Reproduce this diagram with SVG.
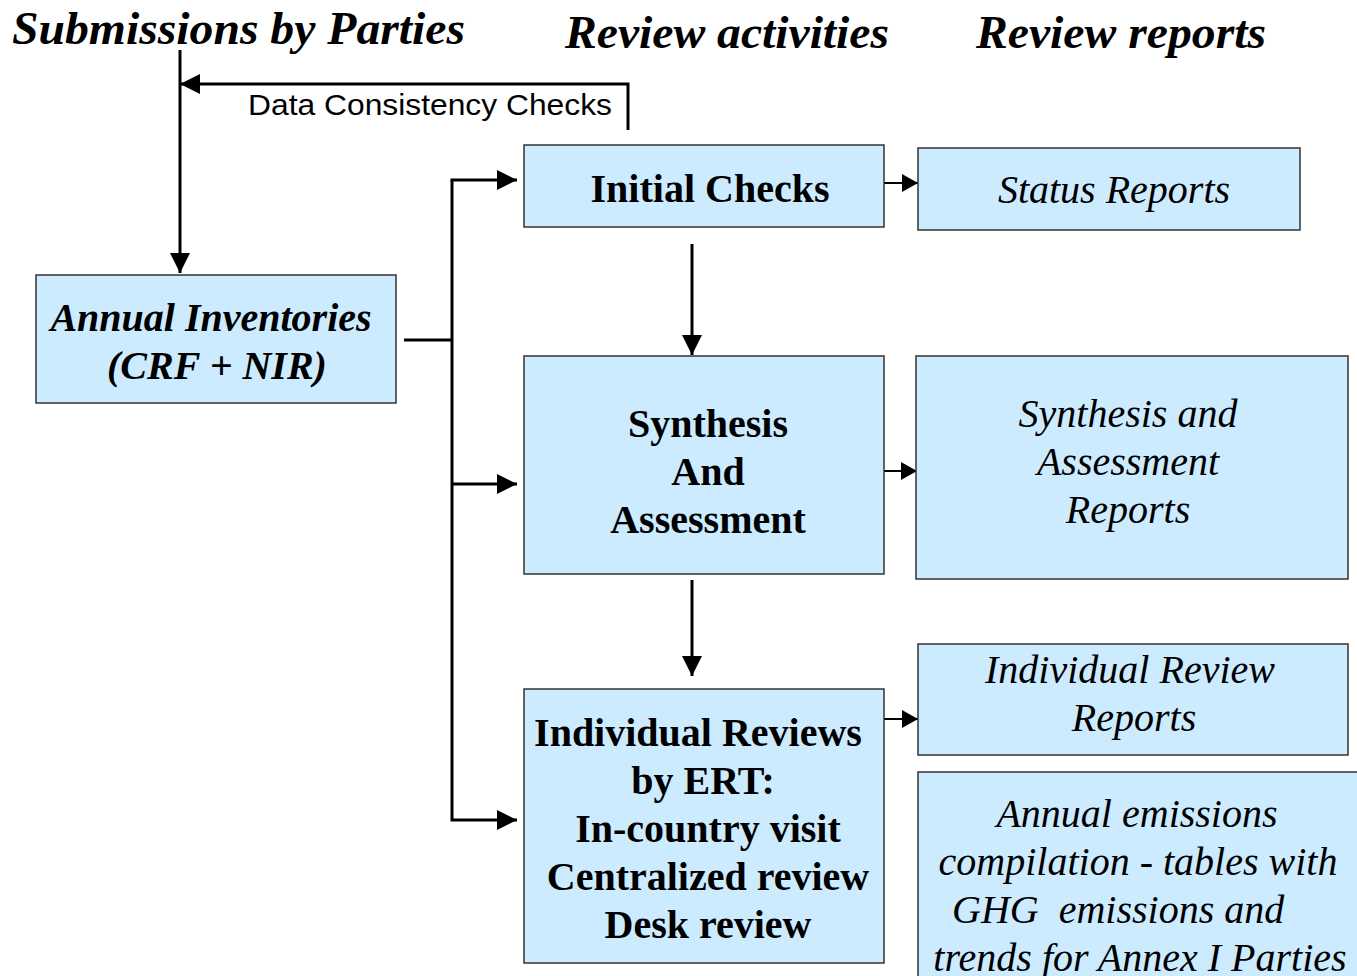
<svg xmlns="http://www.w3.org/2000/svg" width="1357" height="976" viewBox="0 0 1357 976">
<defs>
<marker id="ah" markerUnits="userSpaceOnUse" markerWidth="22" markerHeight="22" refX="20" refY="10" orient="auto">
<path d="M0,0 L20,10 L0,20 Z" fill="#000"/>
</marker>
<marker id="ahs" markerUnits="userSpaceOnUse" markerWidth="18" markerHeight="20" refX="16" refY="9" orient="auto">
<path d="M0,0 L16,9 L0,18 Z" fill="#000"/>
</marker>
<style>
.box{fill:#CCEBFF;stroke:#333;stroke-width:1.5}
.hdr{font-family:'Liberation Serif','Times New Roman',Tinos,'Nimbus Roman',Times,serif;font-weight:bold;font-style:italic;font-size:46px;fill:#000}
.b{font-family:'Liberation Serif','Times New Roman',Tinos,'Nimbus Roman',Times,serif;font-weight:bold;font-size:40px;fill:#000;text-anchor:middle}
.bi{font-family:'Liberation Serif','Times New Roman',Tinos,'Nimbus Roman',Times,serif;font-weight:bold;font-style:italic;font-size:40px;fill:#000;text-anchor:middle}
.i{font-family:'Liberation Serif','Times New Roman',Tinos,'Nimbus Roman',Times,serif;font-style:italic;font-size:40px;fill:#000;text-anchor:middle}
.s{font-family:'Liberation Sans',Arial,Arimo,Helvetica,sans-serif;font-size:30px;fill:#000}
.c{fill:none;stroke:#000;stroke-width:3}
.c2{fill:none;stroke:#000;stroke-width:2}
</style>
</defs>
<rect width="1357" height="976" fill="#fff"/>
<g id="headers">
<text class="hdr" x="12" y="44" textLength="453" lengthAdjust="spacingAndGlyphs">Submissions by Parties</text>
<text class="hdr" x="565" y="48" textLength="324" lengthAdjust="spacingAndGlyphs">Review activities</text>
<text class="hdr" x="976" y="48" textLength="290" lengthAdjust="spacingAndGlyphs">Review reports</text>
</g>
<g id="connectors">
<line class="c" x1="180" y1="50" x2="180" y2="273" marker-end="url(#ah)"/>
<polyline class="c" points="628,130 628,84 180,84" marker-end="url(#ah)"/>
<text class="s" x="248" y="115" textLength="364" lengthAdjust="spacingAndGlyphs">Data Consistency Checks</text>
<line class="c" x1="404" y1="340" x2="453" y2="340"/>
<polyline class="c" points="452,180 452,820 517,820" marker-end="url(#ah)"/>
<line class="c" x1="450.5" y1="180" x2="517" y2="180" marker-end="url(#ah)"/>
<line class="c" x1="452" y1="484" x2="517" y2="484" marker-end="url(#ah)"/>
<line class="c" x1="692" y1="244" x2="692" y2="355" marker-end="url(#ah)"/>
<line class="c" x1="692" y1="580" x2="692" y2="676" marker-end="url(#ah)"/>
<line class="c2" x1="884" y1="183" x2="918" y2="183" marker-end="url(#ahs)"/>
<line class="c2" x1="884" y1="471" x2="917" y2="471" marker-end="url(#ahs)"/>
<line class="c2" x1="884" y1="719" x2="918" y2="719" marker-end="url(#ahs)"/>
</g>
<g id="annual-inventories">
<rect class="box" x="36" y="275" width="360" height="128"/>
<text class="bi" x="211" y="331">Annual Inventories</text>
<text class="bi" x="217" y="379">(CRF + NIR)</text>
</g>
<g id="initial-checks">
<rect class="box" x="524" y="145" width="360" height="82"/>
<text class="b" x="710" y="202">Initial Checks</text>
</g>
<g id="status-reports">
<rect class="box" x="918" y="148" width="382" height="82"/>
<text class="i" x="1114" y="203">Status Reports</text>
</g>
<g id="synthesis">
<rect class="box" x="524" y="356" width="360" height="218"/>
<text class="b" x="708" y="437">Synthesis</text>
<text class="b" x="708" y="485">And</text>
<text class="b" x="708" y="533">Assessment</text>
</g>
<g id="synthesis-reports">
<rect class="box" x="916" y="356" width="432" height="223"/>
<text class="i" x="1128" y="427">Synthesis and</text>
<text class="i" x="1128" y="475">Assessment</text>
<text class="i" x="1128" y="523">Reports</text>
</g>
<g id="individual-reviews">
<rect class="box" x="524" y="689" width="360" height="274"/>
<text class="b" x="698" y="746">Individual Reviews</text>
<text class="b" x="703" y="794">by ERT:</text>
<text class="b" x="708" y="842">In-country visit</text>
<text class="b" x="708" y="890">Centralized review</text>
<text class="b" x="708" y="938">Desk review</text>
</g>
<g id="individual-review-reports">
<rect class="box" x="918" y="644" width="430" height="111"/>
<text class="i" x="1130" y="683">Individual Review</text>
<text class="i" x="1134" y="731">Reports</text>
</g>
<g id="annual-emissions">
<rect class="box" x="918" y="772" width="445" height="220"/>
<text class="i" x="1137" y="827">Annual emissions</text>
<text class="i" x="1138" y="875">compilation - tables with</text>
<text class="i" x="952" y="923" style="text-anchor:start">GHG&#160; emissions and</text>
<text class="i" x="1140" y="971">trends for Annex I Parties</text>
</g>
</svg>
